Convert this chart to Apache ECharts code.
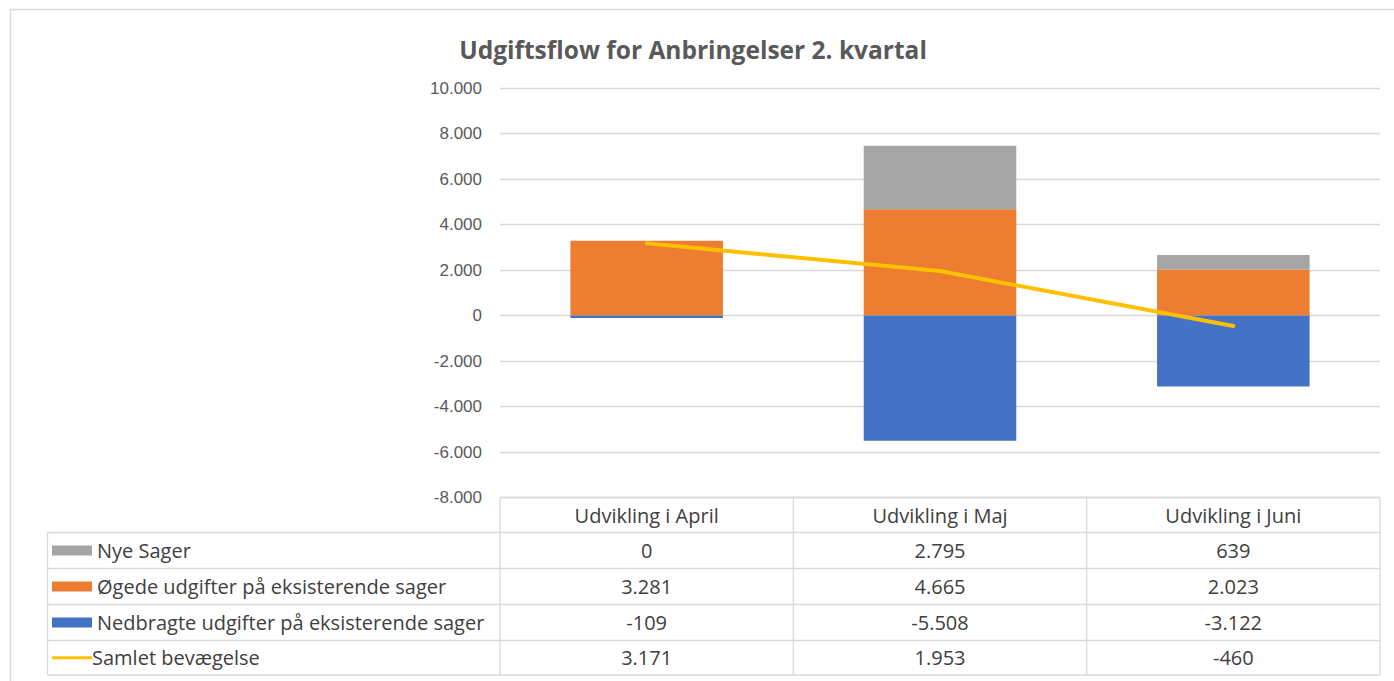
<!DOCTYPE html>
<html>
<head>
<meta charset="utf-8">
<script src="https://cdn.jsdelivr.net/npm/echarts@6/dist/echarts.min.js"></script>
<style>
html,body{margin:0;padding:0;background:#fff;}
#c{width:1394px;height:681px;}
</style>
</head>
<body>
<div id="c"></div>
<script>
// ---- data ----
var categories = ['Udvikling i April', 'Udvikling i Maj', 'Udvikling i Juni'];
var nyeSager = [0, 2795, 639];
var oegede = [3281, 4665, 2023];
var nedbragte = [-109, -5508, -3122];
var samlet = [3171, 1953, -460];
var seriesNames = ['Nye Sager', 'Øgede udgifter på eksisterende sager', 'Nedbragte udgifter på eksisterende sager', 'Samlet bevægelse'];
var yTicks = { min: -8000, max: 10000, interval: 2000 };

// ---- layout ----
var W = 1394, H = 681;
var GL = 500, GR = 1380, GT = 88, GB = 497.5;
var TBL_LEFT = 47.5;
var rowLines = [497.5, 532.5, 568.5, 604.5, 640.5, 675];
var FONT = '"Open Sans", Lato, sans-serif';
var TXT = '#404040';
var GRIDC = '#d9d9d9';
var COLORS = { grey: '#A5A5A5', orange: '#ED7D31', blue: '#4472C4', yellow: '#FFC000' };

function fmt(v) {
  var neg = v < 0; var s = String(Math.abs(Math.round(v)));
  var out = '';
  while (s.length > 3) { out = '.' + s.slice(-3) + out; s = s.slice(0, -3); }
  return (neg ? '-' : '') + s + out;
}

var chart = echarts.init(document.getElementById('c'), null, { renderer: 'svg' });

var rowData = [nyeSager, oegede, nedbragte, samlet];
var rowCenters = [];
for (var i = 0; i < 4; i++) rowCenters.push((rowLines[i + 1] + rowLines[i + 2]) / 2);
var headerCenter = (rowLines[0] + rowLines[1]) / 2;
var TFS = 20;

var xAxes = [{
  type: 'category', data: categories, gridIndex: 0, position: 'bottom',
  axisLine: { show: false }, axisTick: { show: false },
  axisLabel: { interval: 0, margin: headerCenter - GB, verticalAlign: 'middle', fontFamily: FONT, fontSize: TFS, color: TXT }
}];
rowData.forEach(function (arr, k) {
  xAxes.push({
    type: 'category', data: categories, gridIndex: 0, position: 'bottom',
    offset: rowCenters[k] - headerCenter,
    axisLine: { show: false }, axisTick: { show: false }, splitLine: { show: false },
    axisLabel: {
      interval: 0, margin: headerCenter - GB, verticalAlign: 'middle', fontFamily: FONT, fontSize: TFS, color: TXT,
      formatter: (function (a) { return function (v, idx) { return fmt(a[idx]); }; })(arr)
    }
  });
});

// table lines (layout)
var graphics = [];
var lineStyle = { stroke: GRIDC, lineWidth: 1.3 };
graphics.push({ type: 'rect', shape: { x: 10.5, y: 9.5, width: 1420, height: 700 }, style: { fill: 'none', stroke: '#dcdcdc', lineWidth: 1.5 }, silent: true });
graphics.push({ type: 'line', shape: { x1: GL, y1: rowLines[0], x2: GR, y2: rowLines[0] }, style: lineStyle, silent: true });
for (var r = 1; r < rowLines.length; r++) {
  graphics.push({ type: 'line', shape: { x1: TBL_LEFT, y1: rowLines[r], x2: GR, y2: rowLines[r] }, style: lineStyle, silent: true });
}
graphics.push({ type: 'line', shape: { x1: TBL_LEFT, y1: rowLines[1], x2: TBL_LEFT, y2: rowLines[5] }, style: lineStyle, silent: true });
for (var c = 0; c <= categories.length; c++) {
  var x = GL + (GR - GL) * c / categories.length;
  graphics.push({ type: 'line', shape: { x1: x, y1: rowLines[0], x2: x, y2: rowLines[5] }, style: lineStyle, silent: true });
}

var legends = seriesNames.map(function (n, k) {
  return {
    data: [n], left: 52, top: rowCenters[k] - 11, padding: 0, selectedMode: false,
    icon: 'rect', itemWidth: 40, itemHeight: k === 3 ? 3 : 10,
    textStyle: { fontFamily: FONT, fontSize: TFS, color: TXT, lineHeight: 22, padding: [0, 0, 0, k === 3 ? -5 : 0] }
  };
});

var option = {
  animation: false,
  backgroundColor: '#fff',
  title: {
    text: 'Udgiftsflow for Anbringelser 2. kvartal',
    left: 688, top: 32, textAlign: 'center',
    textStyle: { fontFamily: FONT, fontSize: 24.5, fontWeight: 'bold', color: '#595959' }
  },
  legend: legends,
  grid: { left: GL, right: W - GR, top: GT, bottom: H - GB, containLabel: false },
  xAxis: xAxes,
  yAxis: {
    type: 'value', min: yTicks.min, max: yTicks.max, interval: yTicks.interval,
    axisLine: { show: false }, axisTick: { show: false },
    splitLine: { lineStyle: { color: GRIDC, width: 1.3 } },
    axisLabel: { margin: 18, fontFamily: '"Liberation Sans", Arial, sans-serif', fontSize: 17, color: '#595959', formatter: fmt }
  },
  graphic: graphics,
  series: [
    { name: seriesNames[1], type: 'bar', stack: 'a', data: oegede, barCategoryGap: '48%', itemStyle: { color: COLORS.orange }, color: COLORS.orange },
    { name: seriesNames[0], type: 'bar', stack: 'a', data: nyeSager, barCategoryGap: '48%', itemStyle: { color: COLORS.grey }, color: COLORS.grey },
    { name: seriesNames[2], type: 'bar', stack: 'a', data: nedbragte, barCategoryGap: '48%', itemStyle: { color: COLORS.blue }, color: COLORS.blue },
    { name: seriesNames[3], type: 'line', data: samlet, symbol: 'none', z: 5, color: COLORS.yellow,
      lineStyle: { color: COLORS.yellow, width: 4, cap: 'round' }, itemStyle: { color: COLORS.yellow } }
  ]
};
chart.setOption(option);
</script>
</body>
</html>
